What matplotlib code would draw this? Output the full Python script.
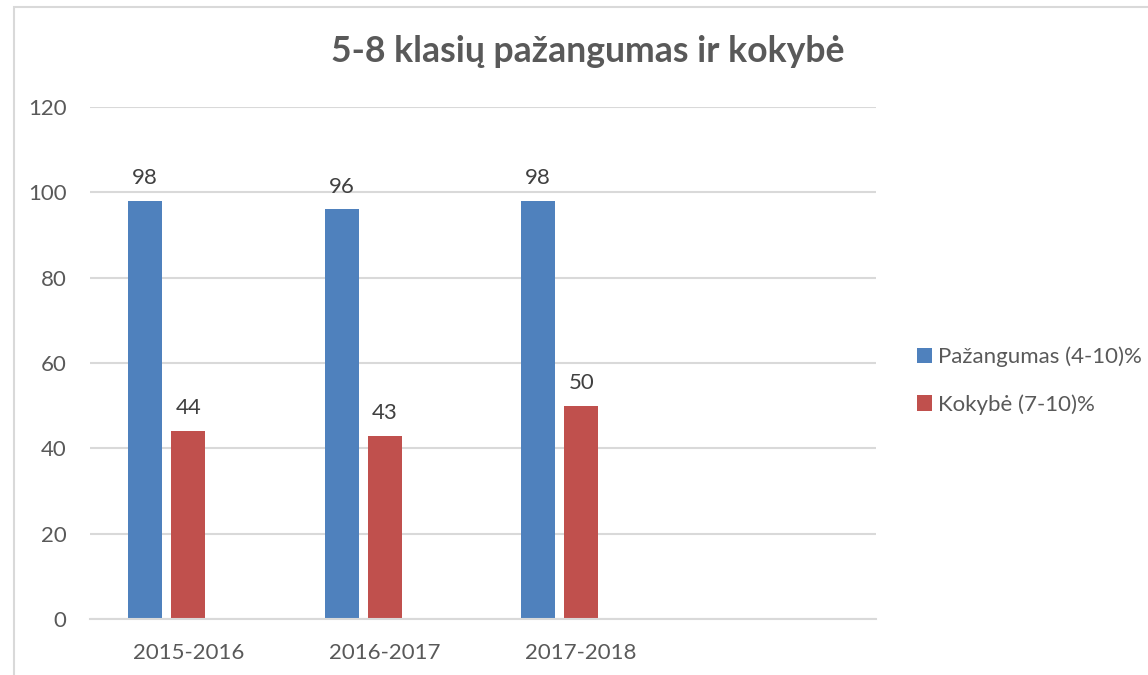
import matplotlib.pyplot as plt
import numpy as np
from matplotlib.patches import Rectangle

plt.rcParams['font.family'] = ['Lato', 'DejaVu Sans']

years = ['2015-2016', '2016-2017', '2017-2018', '']
pazangumas = [98, 96, 98]
kokybe = [44, 43, 50]
series_names = ['Pažangumas (4-10)%', 'Kokybė (7-10)%']
yticks = [0, 20, 40, 60, 80, 100, 120]

blue = '#4F81BD'
red = '#C0504D'
grey_text = '#595959'
grid_col = '#D9D9D9'

fig = plt.figure(figsize=(11.48, 6.75), dpi=100)
ax = fig.add_axes([90 / 1148, 1 - 619 / 675, (876 - 90) / 1148, (619 - 107) / 675])

# outer chart frame (Excel-style), partly cut off on the right/bottom
fig.patches.append(Rectangle((14 / 1148, -0.1), 1.2, 1 - 7 / 675 + 0.1,
                             transform=fig.transFigure, fill=False,
                             edgecolor=grid_col, linewidth=1.5))

x = np.arange(len(pazangumas))
width = 0.173
step = 0.219
b1 = ax.bar(x - step, pazangumas, width, color=blue, label=series_names[0])
b2 = ax.bar(x, kokybe, width, color=red, label=series_names[1])

for bars in (b1, b2):
    for rect in bars:
        h = rect.get_height()
        ax.text(rect.get_x() + rect.get_width() / 2, h + 3.0, f'{h:g}',
                ha='center', va='bottom', fontsize=16, color='#404040')

ax.set_xlim(-0.5, 3.5)
ax.set_ylim(0, 120)
ax.set_yticks(yticks)
ax.set_xticks(np.arange(len(years)))
ax.set_xticklabels(years)
ax.tick_params(axis='both', length=0, labelsize=16, labelcolor=grey_text)
ax.tick_params(axis='y', pad=17)
ax.tick_params(axis='x', pad=17)
ax.yaxis.grid(True, color=grid_col, linewidth=1.5)
ax.set_axisbelow(True)
for side in ['top', 'right', 'left']:
    ax.spines[side].set_visible(False)
ax.spines['bottom'].set_color(grid_col)
ax.spines['bottom'].set_linewidth(1.5)

fig.text(588 / 1148, 1 - 52 / 675, '5-8 klasių pažangumas ir kokybė',
         ha='center', va='center', fontsize=25.7, fontweight='bold', color=grey_text)

leg = fig.legend(handles=[b1, b2], loc='upper left',
                 bbox_to_anchor=(908 / 1148, 1 - 338 / 675),
                 frameon=False, fontsize=16, handlelength=0.68, handleheight=0.68,
                 handletextpad=0.25, labelspacing=1.2, borderaxespad=0)
for t in leg.get_texts():
    t.set_color(grey_text)

fig.savefig('out.png', dpi=100)
